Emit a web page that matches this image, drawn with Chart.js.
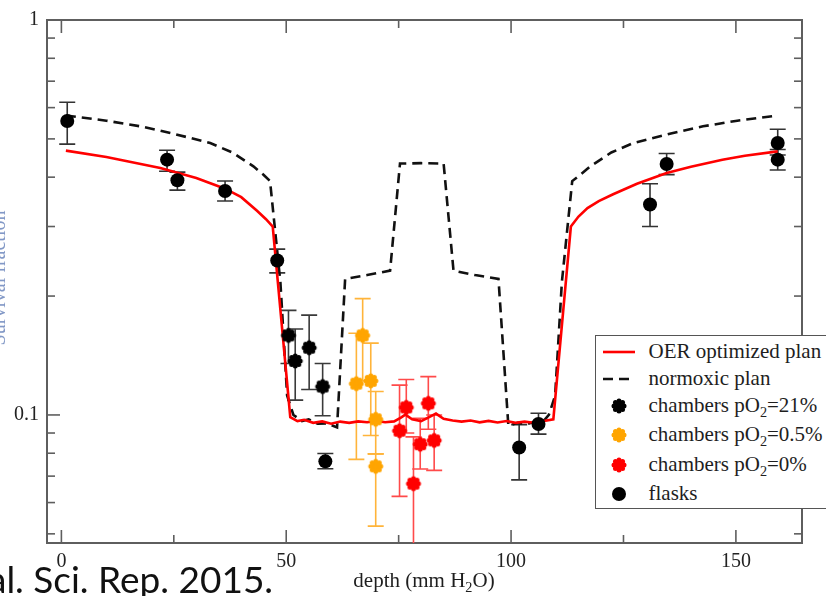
<!DOCTYPE html>
<html>
<head>
<meta charset="utf-8">
<script src="https://cdn.jsdelivr.net/npm/chart.js@4.4.0/dist/chart.umd.min.js"></script>
<style>
html,body{margin:0;padding:0;background:#fff;overflow:hidden;width:826px;height:596px;}
#wrap{position:relative;width:826px;height:596px;overflow:hidden;background:#fff;}
#c{position:absolute;left:0;top:0;}
.serif{font-family:'Liberation Serif','Times New Roman',serif;color:#1e1e1e;white-space:nowrap;}
sub{font-size:0.68em;vertical-align:-0.38em;line-height:0;}
#legend{position:absolute;left:595px;top:335px;width:262px;height:174px;border:1.5px solid #555;background:#fff;box-sizing:border-box;font-family:'Liberation Serif','Times New Roman',serif;}
.row{position:absolute;left:0;height:0;display:flex;align-items:center;font-size:21px;font-family:'Liberation Serif','Times New Roman',serif;}
.mk{position:absolute;}
#xtitle{position:absolute;left:224px;width:400px;text-align:center;top:568px;font-size:21px;line-height:24px;}
#ytitle{position:absolute;left:-102px;width:200px;top:268px;height:20px;line-height:20px;text-align:center;font-size:20px;color:#8298c6;transform:rotate(-90deg);}
#cite{position:absolute;left:-12px;top:557px;font-family:Lato,'Open Sans',sans-serif;font-size:37px;line-height:44px;color:#111;white-space:nowrap;}
</style>
</head>
<body>
<div id="wrap">
<canvas id="c" width="826" height="596"></canvas>
<div id="ytitle" class="serif">Survival fraction</div>
<div id="xtitle" class="serif">depth (mm H<sub>2</sub>O)</div>
<div id="legend"></div>
<div id="cite">al. Sci. Rep. 2015.</div>
</div>
<script>
// ---------- data ----------
const xTickValues = [0, 50, 100, 150];
const xMinorTickValues = [25, 75, 125];
const yTickValues = [0.1, 1];
const yTickLabels = ['0.1', '1'];
const yMinorTickValues = [0.05, 0.06, 0.07, 0.08, 0.09, 0.2, 0.3, 0.4, 0.5, 0.6, 0.7, 0.8, 0.9];

const oerDepth = [1, 10, 22, 30, 36.4, 40, 43.5, 45.5, 47.0, 50.9, 52.5, 54, 56, 58, 60, 62, 64, 66, 68, 70, 72, 74, 75.5, 76.5, 78, 80, 82, 83.3, 85, 87, 89, 91, 93, 95, 97, 99, 101, 103, 105, 107, 109.4, 113.3, 115, 117, 119.5, 122.7, 128, 134.6, 140, 147, 152, 159.3];
const oerSurvival = [0.467, 0.450, 0.422, 0.398, 0.374, 0.356, 0.329, 0.313, 0.300, 0.0987, 0.0965, 0.0972, 0.0955, 0.0963, 0.0950, 0.0962, 0.0955, 0.0963, 0.0958, 0.0966, 0.0958, 0.0963, 0.0985, 0.1002, 0.0975, 0.0965, 0.0990, 0.1008, 0.0978, 0.0968, 0.0962, 0.0968, 0.0958, 0.0966, 0.0957, 0.0965, 0.0955, 0.0962, 0.0956, 0.0964, 0.0975, 0.300, 0.318, 0.334, 0.348, 0.362, 0.385, 0.410, 0.425, 0.443, 0.453, 0.465];

const normDepth = [1, 10, 17.6, 25, 33.1, 38, 42.7, 45, 46.4, 48.7, 50.2, 51.6, 53.5, 55, 57, 59, 61.3, 63.1, 68, 73.1, 75.3, 80, 85.0, 87.2, 92, 97.2, 99.4, 101.5, 103.5, 105.5, 107, 108.4, 109.8, 111.3, 113.6, 115.3, 117.6, 122.3, 127.2, 135.3, 142.7, 150.3, 159.3];
const normSurvival = [0.573, 0.556, 0.538, 0.515, 0.488, 0.462, 0.426, 0.405, 0.391, 0.217, 0.112, 0.100, 0.0965, 0.0975, 0.0950, 0.0952, 0.0930, 0.221, 0.226, 0.232, 0.433, 0.434, 0.433, 0.232, 0.226, 0.221, 0.0939, 0.0955, 0.0948, 0.0962, 0.0958, 0.100, 0.112, 0.217, 0.391, 0.405, 0.426, 0.462, 0.488, 0.515, 0.538, 0.556, 0.573];

const ch21Depth = [50.5, 52.0, 55.1, 58.1];
const ch21Survival = [0.159, 0.137, 0.148, 0.118];
const ch21Low = [0.135, 0.109, 0.116, 0.0995];
const ch21High = [0.184, 0.165, 0.179, 0.135];

const ch05Depth = [65.6, 67.0, 68.8, 69.9, 69.9];
const ch05Survival = [0.120, 0.159, 0.122, 0.0975, 0.0741];
const ch05Low = [0.0772, 0.122, 0.0887, 0.0797, 0.0523];
const ch05High = [0.161, 0.197, 0.152, 0.1146, 0.0797];

const ch0Depth = [75.2, 76.7, 78.3, 79.8, 81.6, 82.9];
const ch0Survival = [0.0912, 0.1045, 0.0670, 0.0843, 0.107, 0.0862];
const ch0Low = [0.0622, 0.090, 0.040, 0.0730, 0.092, 0.0724];
const ch0High = [0.119, 0.123, 0.088, 0.098, 0.125, 0.100];

const flaskDepth = [1.3, 23.5, 25.8, 36.4, 48.0, 58.7, 101.8, 106.1, 130.9, 134.6, 159.3, 159.3];
const flaskSurvival = [0.555, 0.443, 0.393, 0.369, 0.246, 0.0763, 0.0827, 0.0949, 0.341, 0.432, 0.488, 0.443];
const flaskLow = [0.485, 0.414, 0.371, 0.348, 0.229, 0.0731, 0.0685, 0.0894, 0.300, 0.406, 0.455, 0.417];
const flaskHigh = [0.619, 0.468, 0.412, 0.391, 0.263, 0.0799, 0.0945, 0.101, 0.385, 0.459, 0.529, 0.470];

// ---------- helpers ----------
const pts = (xs, ys) => xs.map((v, i) => ({x: v, y: ys[i]}));

function makeCog(color) {
  const c = document.createElement('canvas');
  c.width = 18; c.height = 18;
  const g = c.getContext('2d');
  g.fillStyle = color;
  g.beginPath(); g.arc(9, 9, 4.4, 0, Math.PI * 2); g.fill();
  for (let k = 0; k < 8; k++) {
    const a = k * Math.PI / 4;
    g.beginPath(); g.arc(9 + 5.0 * Math.cos(a), 9 + 5.0 * Math.sin(a), 2.5, 0, Math.PI * 2); g.fill();
  }
  return c;
}
const cogBlack = makeCog('#000000');
const cogOrange = makeCog('#ffa500');
const cogRed = makeCog('#ff0000');

const datasets = [
  {label: 'OER optimized plan', type: 'line', data: pts(oerDepth, oerSurvival), borderColor: '#ff0000', borderWidth: 2.6, pointRadius: 0, showLine: true, fill: false, tension: 0, order: 3},
  {label: 'normoxic plan', type: 'line', data: pts(normDepth, normSurvival), borderColor: '#111111', borderWidth: 2.6, borderDash: [10, 6], pointRadius: 0, showLine: true, fill: false, tension: 0, order: 4},
  {label: 'chambers pO2=21%', data: pts(ch21Depth, ch21Survival), pointStyle: cogBlack, pointRadius: 7, errorLow: ch21Low, errorHigh: ch21High, errorColor: '#3a3a3a', capHalf: 8, order: 1},
  {label: 'chambers pO2=0.5%', data: pts(ch05Depth, ch05Survival), pointStyle: cogOrange, pointRadius: 7, errorLow: ch05Low, errorHigh: ch05High, errorColor: '#ffb43a', capHalf: 8, order: 1},
  {label: 'chambers pO2=0%', data: pts(ch0Depth, ch0Survival), pointStyle: cogRed, pointRadius: 7, errorLow: ch0Low, errorHigh: ch0High, errorColor: '#ff4a4a', capHalf: 8, order: 1},
  {label: 'flasks', data: pts(flaskDepth, flaskSurvival), pointStyle: 'circle', pointRadius: 7, backgroundColor: '#000', borderColor: '#000', borderWidth: 0, errorLow: flaskLow, errorHigh: flaskHigh, errorColor: '#333333', capHalf: 8, order: 0}
];

// frame with inward ticks on all four sides
const framePlugin = {
  id: 'frame',
  beforeDatasetsDraw(chart) {
    const {ctx, chartArea: a, scales: {x, y}} = chart;
    ctx.save();
    ctx.strokeStyle = '#5e5e5e';
    ctx.lineWidth = 1.6;
    const seg = (x1, y1, x2, y2) => { ctx.beginPath(); ctx.moveTo(x1, y1); ctx.lineTo(x2, y2); ctx.stroke(); };
    const xt = (vals, len) => vals.forEach(v => { const p = x.getPixelForValue(v); seg(p, a.bottom, p, a.bottom - len); seg(p, a.top, p, a.top + len); });
    const yt = (vals, len) => vals.forEach(v => { const p = y.getPixelForValue(v); seg(a.left, p, a.left + len, p); seg(a.right, p, a.right - len, p); });
    xt(xTickValues, 13); xt(xMinorTickValues, 8);
    yt(yTickValues, 13); yt(yMinorTickValues, 8);
    ctx.lineWidth = 2;
    ctx.strokeRect(a.left, a.top, a.right - a.left, a.bottom - a.top);
    ctx.restore();
  }
};

// vertical error bars with caps
const errorBarPlugin = {
  id: 'errbars',
  beforeDatasetsDraw(chart) {
    const {ctx, chartArea: a, scales: {x, y}} = chart;
    ctx.save();
    ctx.beginPath(); ctx.rect(a.left, a.top, a.right - a.left, a.bottom - a.top); ctx.clip();
    chart.data.datasets.forEach(ds => {
      if (!ds.errorLow) return;
      ctx.strokeStyle = ds.errorColor;
      ctx.lineWidth = 1.6;
      ds.data.forEach((p, j) => {
        const px = x.getPixelForValue(p.x);
        const lo = y.getPixelForValue(ds.errorLow[j]);
        const hi = y.getPixelForValue(ds.errorHigh[j]);
        ctx.beginPath();
        ctx.moveTo(px, lo); ctx.lineTo(px, hi);
        ctx.moveTo(px - ds.capHalf, lo); ctx.lineTo(px + ds.capHalf, lo);
        ctx.moveTo(px - ds.capHalf, hi); ctx.lineTo(px + ds.capHalf, hi);
        ctx.stroke();
      });
    });
    ctx.restore();
  }
};

const serifFamily = "'Liberation Serif', 'Times New Roman', serif";

const chart = new Chart(document.getElementById('c'), {
  type: 'scatter',
  data: {datasets},
  options: {
    responsive: false,
    animation: false,
    devicePixelRatio: 1,
    layout: {padding: {top: 16, right: 24, left: 0, bottom: 0}},
    plugins: {legend: {display: false}, tooltip: {enabled: false}},
    scales: {
      x: {
        type: 'linear', min: -3.2, max: 164.7,
        grid: {display: false, drawTicks: false}, border: {display: false},
        afterBuildTicks: s => { s.ticks = xTickValues.map(v => ({value: v})); },
        afterFit: s => { s.height = 53; },
        ticks: {font: {family: serifFamily, size: 20}, color: '#222', padding: 7, maxRotation: 0, autoSkip: false}
      },
      y: {
        type: 'logarithmic', min: 0.0474, max: 1,
        grid: {display: false, drawTicks: false}, border: {display: false},
        afterBuildTicks: s => { s.ticks = yTickValues.map(v => ({value: v})); },
        afterFit: s => { s.width = 47; },
        ticks: {font: {family: serifFamily, size: 20}, color: '#222', padding: 8, autoSkip: false,
                callback: (v) => { const i = yTickValues.indexOf(v); return i >= 0 ? yTickLabels[i] : ''; }}
      }
    }
  },
  plugins: [framePlugin, errorBarPlugin]
});

// ---------- HTML legend built from the datasets ----------
const rowCenters = [352, 379, 406, 435, 465, 494];
const legend = document.getElementById('legend');
const boxTop = 335, boxLeft = 595;
datasets.forEach((ds, i) => {
  const cy = rowCenters[i] - boxTop - 1.5;
  const mk = document.createElement('canvas');
  mk.className = 'mk';
  mk.width = 36; mk.height = 18;
  mk.style.left = (601 - boxLeft - 1.5) + 'px';
  mk.style.top = (cy - 9) + 'px';
  const g = mk.getContext('2d');
  if (ds.type === 'line') {
    g.strokeStyle = ds.borderColor; g.lineWidth = 2.6;
    if (ds.borderDash) g.setLineDash(ds.borderDash);
    g.beginPath(); g.moveTo(2, 9); g.lineTo(34, 9); g.stroke();
  } else if (ds.pointStyle === 'circle') {
    g.fillStyle = '#000'; g.beginPath(); g.arc(18, 9, 7, 0, Math.PI * 2); g.fill();
  } else {
    g.drawImage(ds.pointStyle, 9, 0);
  }
  legend.appendChild(mk);
  const row = document.createElement('div');
  row.className = 'row serif';
  row.style.left = (649 - boxLeft - 1.5) + 'px';
  row.style.top = cy + 'px';
  row.innerHTML = '<span>' + ds.label.replace('pO2', 'pO<sub>2</sub>') + '</span>';
  legend.appendChild(row);
});
</script>
</body>
</html>
